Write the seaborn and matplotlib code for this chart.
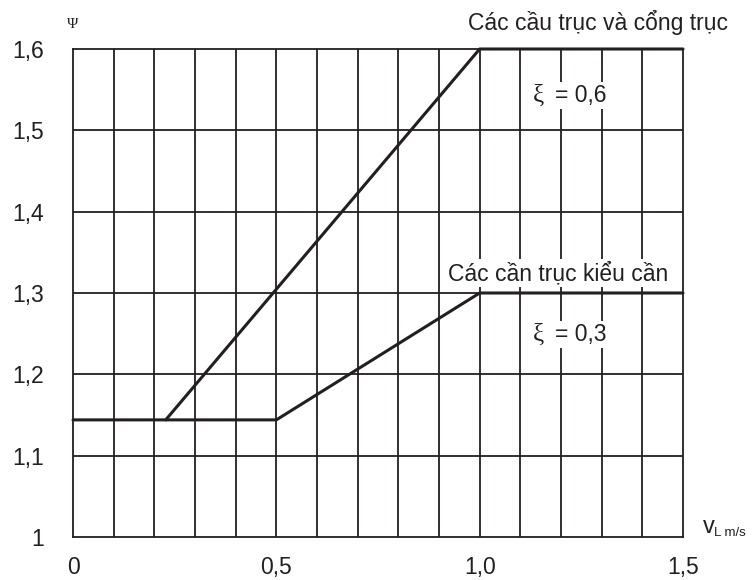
import matplotlib
matplotlib.use("Agg")
import matplotlib.pyplot as plt
import seaborn as sns
import pandas as pd
import numpy as np

# data
gantry_v = [0.228, 1.0, 1.5]
gantry_psi = [1.144, 1.6, 1.6]
jib_v = [0.0, 0.5, 1.0, 1.5]
jib_psi = [1.144, 1.144, 1.3, 1.3]
x_ticks = [0, 0.5, 1.0, 1.5]
x_tick_labels = ["0", "0,5", "1,0", "1,5"]
y_ticks = [1.0, 1.1, 1.2, 1.3, 1.4, 1.5, 1.6]
y_tick_labels = ["1", "1,1", "1,2", "1,3", "1,4", "1,5", "1,6"]
label_gantry = "Các cầu trục và cổng trục"
label_jib = "Các cần trục kiểu cần"
xi_gantry = "= 0,6"
xi_jib = "= 0,3"

sns.set_style("white")
plt.rcParams['font.family'] = ['Liberation Sans', 'DejaVu Sans']

ink = "#231f20"
W, H = 753, 580
fig = plt.figure(figsize=(7.53, 5.80), dpi=100)
ax = fig.add_axes([73/W, 1 - 537/H, (683-73)/W, (537-49)/H])

df_g = pd.DataFrame({"v": gantry_v, "psi": gantry_psi})
df_j = pd.DataFrame({"v": jib_v, "psi": jib_psi})

ax.set_xlim(0, 1.5)
ax.set_ylim(1.0, 1.6)

# grid
for xv in np.arange(1, 15) / 10:
    ax.axvline(xv, color=ink, lw=1.3, zorder=1)
for yv in np.arange(1, 6) / 10 + 1.0:
    ax.axhline(yv, color=ink, lw=1.3, zorder=1)

sns.lineplot(data=df_g, x="v", y="psi", ax=ax, color=ink, lw=2.2, zorder=3,
             clip_on=False, estimator=None, sort=False)
sns.lineplot(data=df_j, x="v", y="psi", ax=ax, color=ink, lw=2.2, zorder=3,
             clip_on=False, estimator=None, sort=False)

for s in ax.spines.values():
    s.set_color(ink)
    s.set_linewidth(1.3)
    s.set_visible(True)

ax.set_xticks(x_ticks)
ax.set_xticklabels(x_tick_labels)
ax.set_yticks(y_ticks)
ax.set_yticklabels(y_tick_labels)
ax.tick_params(axis='x', length=0, pad=13.5, labelsize=16.5, colors=ink)
ax.tick_params(axis='y', length=0, pad=21, labelsize=16.5, colors=ink)
ax.set_xlabel("")
ax.set_ylabel("")

bb = dict(facecolor="white", edgecolor="none", pad=1.5)
fig.text(728/W, 1 - 30/H, label_gantry, ha="right", va="baseline", fontsize=16.5,
         color=ink, zorder=5)
fig.text(448/W, 1 - 280/H, label_jib, ha="left", va="baseline", fontsize=16.5,
         color=ink, bbox=bb, zorder=5)
for txt, yb in [(xi_gantry, 102), (xi_jib, 341)]:
    fig.text(533/W, 1 - yb/H, "ξ", ha="left", va="baseline", fontsize=18,
             color=ink, family=['Liberation Serif', 'DejaVu Serif'], bbox=bb, zorder=5)
    fig.text(555/W, 1 - yb/H, txt, ha="left", va="baseline", fontsize=16.5,
             color=ink, bbox=bb, zorder=5)

fig.text(73/W, 1 - 25/H, "Ψ", ha="center", va="center", fontsize=11, color=ink,
         family=['Liberation Serif', 'DejaVu Serif'])
fig.text(703/W, 1 - 527/H, "v", ha="left", va="center", fontsize=17, color=ink)
fig.text(714/W, 1 - 533/H, "L m/s", ha="left", va="center", fontsize=9.5, color=ink)

fig.savefig("out.png", dpi=100)
